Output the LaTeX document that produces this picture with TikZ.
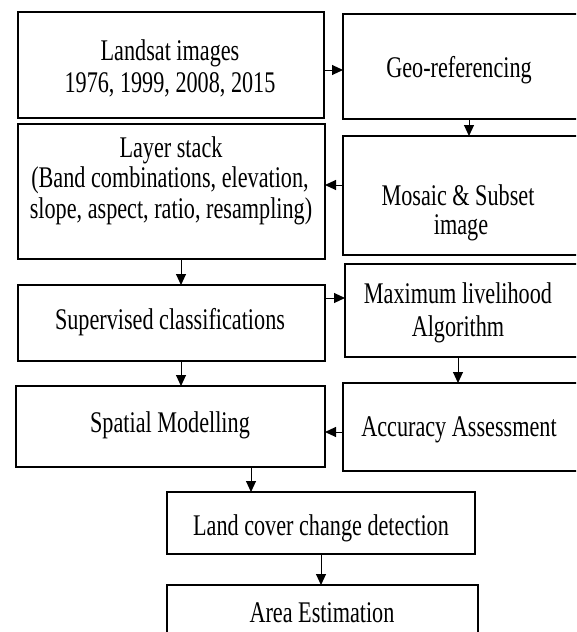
\documentclass[tikz,border=0pt]{standalone}
\usepackage{fontspec}
\setmainfont[FakeStretch=0.74]{Liberation Serif}
\usetikzlibrary{arrows.meta,fit}
\tikzset{
  box/.style={draw, line width=1.6pt, inner sep=0pt, outer sep=0pt},
  lbl/.style={anchor=base, inner sep=0pt, font=\fontsize{30}{30}\selectfont},
  arr/.style={line width=1pt, -{Triangle[length=11pt,width=10pt]}}
}
\begin{document}
\begin{tikzpicture}[x=1pt,y=-1pt]
\useasboundingbox (0,0) rectangle (576,632);
\fill[white] (0,0) rectangle (576,632);
\clip (0,0) rectangle (576,632);
% boxes
\node[box, fit={(18,12) (324,118)}] (b1) {};
\node[box, fit={(343,14) (580,119)}] (b2) {};
\node[box, fit={(18,124) (325,259)}] (b3) {};
\node[box, fit={(343,136) (580,255)}] (b4) {};
\node[box, fit={(18,285) (325,361)}] (b5) {};
\node[box, fit={(345,264) (580,357)}] (b6) {};
\node[box, fit={(16,386) (325,467)}] (b7) {};
\node[box, fit={(343,383) (580,471)}] (b8) {};
\node[box, fit={(167,492) (475,554)}] (b9) {};
\node[box, fit={(167,585) (478,640)}] (b10) {};
% texts
\node[lbl] (t1a) at (170,60) {Landsat images};
\node[lbl] (t1b) at (170,92) {1976, 1999, 2008, 2015};
\node[lbl] (t2) at (459,77) {Geo-referencing};
\node[lbl] (t3a) at (171,157) {Layer stack};
\node[lbl] (t3b) at (170,187) {(Band combinations, elevation,};
\node[lbl] (t3c) at (171,218) {slope, aspect, ratio, resampling)};
\node[lbl] (t4a) at (458,205) {Mosaic \& Subset};
\node[lbl] (t4b) at (461,234) {image};
\node[lbl] (t5) at (170,329) {Supervised classifications};
\node[lbl] (t6a) at (458,303) {Maximum livelihood};
\node[lbl] (t6b) at (458,336) {Algorithm};
\node[lbl] (t7) at (170,432) {Spatial Modelling};
\node[lbl] (t8) at (459,436) {Accuracy Assessment};
\node[lbl] (t9) at (321,535) {Land cover change detection};
\node[lbl] (t10) at (322,622) {Area Estimation};
% arrow guide coordinates
\coordinate (y1) at (0,70);
\coordinate (x2) at (469,0);
\coordinate (y3) at (0,185);
\coordinate (x4) at (181,0);
\coordinate (y5) at (0,298);
\coordinate (x6) at (458,0);
\coordinate (y8) at (0,432);
\coordinate (x9) at (251,0);
\coordinate (x10) at (321,0);
% connectors
\draw[arr] (b1.east |- y1) -- (b2.west |- y1);
\draw[arr] (b2.south -| x2) -- (b4.north -| x2);
\draw[arr] (b4.west |- y3) -- (b3.east |- y3);
\draw[arr] (b3.south -| x4) -- (b5.north -| x4);
\draw[arr] (b5.east |- y5) -- (b6.west |- y5);
\draw[arr] (b6.south -| x6) -- (b8.north -| x6);
\draw[arr] (b5.south -| x4) -- (b7.north -| x4);
\draw[arr] (b8.west |- y8) -- (b7.east |- y8);
\draw[arr] (b7.south -| x9) -- (b9.north -| x9);
\draw[arr] (b9.south -| x10) -- (b10.north -| x10);
\end{tikzpicture}
\end{document}
